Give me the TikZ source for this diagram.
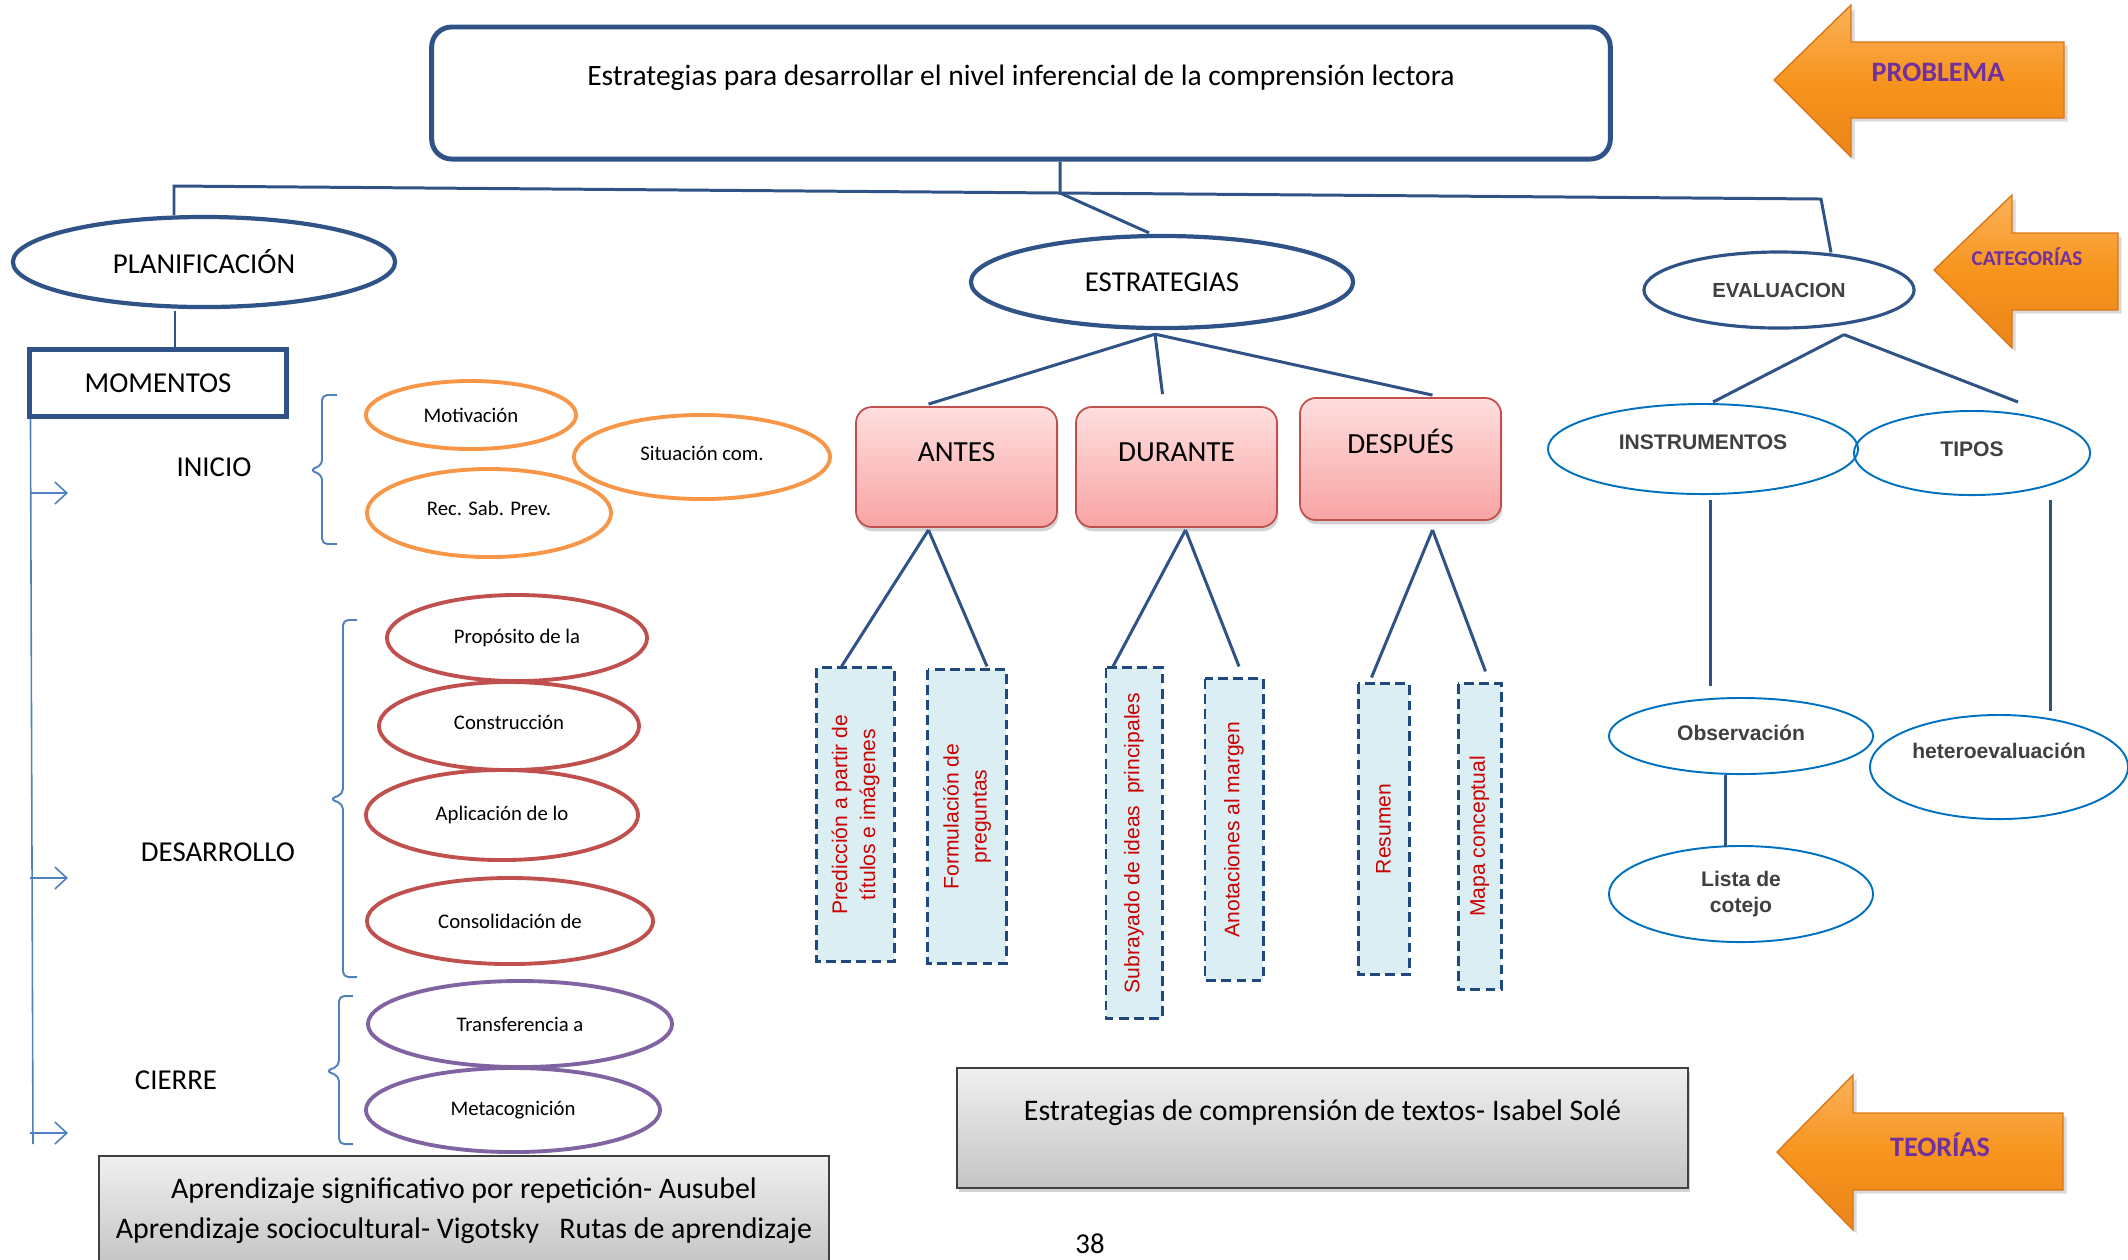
\documentclass[tikz,border=0pt]{standalone}
\usepackage{fontspec}
\setmainfont{Carlito}
\newfontfamily\arialfont{Liberation Sans}
\usepackage{tikz}
\usetikzlibrary{shapes.geometric}
\usetikzlibrary{shadows}
\usetikzlibrary{arrows.meta}
\usetikzlibrary{calc}

\definecolor{navy}{HTML}{2F5386}
\definecolor{spineblue}{HTML}{4F81BD}
\definecolor{lightblue}{HTML}{0070C0}
\definecolor{orangeline}{HTML}{F79646}
\definecolor{redline}{HTML}{C0504D}
\definecolor{purpleline}{HTML}{8064A2}
\definecolor{dashline}{HTML}{1F497D}
\definecolor{dashfill}{HTML}{DAEEF3}
\definecolor{boxred}{HTML}{CC0000}
\definecolor{pinktop}{HTML}{FFDEDE}
\definecolor{pinkbot}{HTML}{F8A4A4}
\definecolor{pinkline}{HTML}{C0504D}
\definecolor{graytop}{HTML}{F0F0F0}
\definecolor{graybot}{HTML}{C4C4C4}
\definecolor{arrowtop}{HTML}{FBB25A}
\definecolor{arrowmid}{HTML}{F7941D}
\definecolor{arrowbot}{HTML}{EC8518}
\definecolor{arrowline}{HTML}{D8761A}
\definecolor{tagpurple}{HTML}{7030A0}
\definecolor{evaltext}{HTML}{404040}

\begin{document}
\begin{tikzpicture}[x=0.01cm, y=-0.01cm,
    link/.style={draw=navy, line width=0.85pt},
    spine/.style={draw=spineblue, line width=0.45pt},
    topic/.style={ellipse, draw=navy, line width=1.2pt, inner sep=0pt, font=\fontsize{8.2}{9.8}\selectfont},
    evaltopic/.style={ellipse, draw=navy, line width=0.9pt, inner sep=0pt, text=evaltext, font=\arialfont\bfseries\fontsize{5.8}{7}\selectfont},
    evalsub/.style={ellipse, draw=lightblue, line width=0.55pt, inner sep=0pt, align=center, text=evaltext, font=\arialfont\bfseries\fontsize{6}{7.4}\selectfont},
    activity/.style={ellipse, line width=1.1pt, inner sep=0pt, font=\fontsize{5.9}{7}\selectfont},
    stage/.style={font=\fontsize{8.2}{9.8}\selectfont},
    phase/.style={rectangle, rounded corners=0.16cm, draw=pinkline, line width=0.5pt, top color=pinktop, bottom color=pinkbot,
        minimum width=2.01cm, inner sep=0pt, text height=0.54cm, text depth=0.66cm, font=\fontsize{8.3}{10}\selectfont,
        drop shadow={shadow xshift=0.4pt, shadow yshift=-1.2pt, opacity=0.35}},
    dashbox/.style={rectangle, rotate=90, draw=dashline, fill=dashfill, line width=0.85pt, dash pattern=on 2.8pt off 1.5pt,
        inner sep=0pt, align=center, text=boxred, font=\arialfont\fontsize{6}{8}\selectfont},
    theory/.style={rectangle, draw=black!75, line width=0.5pt, top color=graytop, bottom color=graybot, font=\fontsize{8.5}{11.4}\selectfont},
    tagarrow/.style={draw=arrowline, line width=0.4pt, top color=arrowtop, bottom color=arrowbot, middle color=arrowmid,
        drop shadow={shadow xshift=1pt, shadow yshift=-1pt, opacity=0.3}},
    tagtext/.style={text=tagpurple, font=\bfseries\fontsize{8}{9.6}\selectfont},
    >={Straight Barb[length=0.12cm, width=0.22cm]}
]
\useasboundingbox (0,0) rectangle (2128,1259);

\node[draw=navy, line width=1.4pt, rounded corners=0.2cm, minimum width=11.78cm, inner sep=0pt,
      text height=0.58cm, text depth=0.74cm, font=\fontsize{8.4}{10}\selectfont] (title) at (1021,93)
      {Estrategias para desarrollar el nivel inferencial de la comprensión lectora};

\node[topic, minimum width=3.82cm, minimum height=0.9cm] (plan) at (204,262) {PLANIFICACIÓN};
\node[topic, minimum width=3.82cm, minimum height=0.92cm] (estrat) at (1162,282) {ESTRATEGIAS};
\node[evaltopic, minimum width=2.7cm, minimum height=0.76cm] (evalu) at (1779,290) {EVALUACION};

\coordinate (barL) at (174,186);
\coordinate (barR) at (1821,199);
\coordinate (hub) at (1060,193);
\draw[link] ($(plan.north)+(-30,0)$) -- (barL) -- (barR) -- ($(evalu.north)+(52,2)$);
\draw[link] ($(title.south)+(39,0)$) -- (hub) -- ($(estrat.north)+(-13,-1)$);

% momentos
\node[draw=navy, line width=1.4pt, minimum width=2.56cm, minimum height=0.67cm, inner sep=0pt,
      font=\fontsize{8.2}{9.8}\selectfont] (momentos) at (158,383) {MOMENTOS};
\draw[link] ($(plan.south)+(-29,2)$) -- ($(momentos.north)+(17,0)$);

\node[stage] (inicio) at (214,467) {INICIO};
\node[stage] (desarrollo) at (218,852) {DESARROLLO};
\node[stage] (cierre) at (176,1080) {CIERRE};

\coordinate (spineTop) at ($(momentos.south west)+(3,0)$);
\coordinate (spineEnd) at (33,1144);
\coordinate (toInicio) at (68,493);
\coordinate (toDesarrollo) at (68,878);
\coordinate (toCierre) at (68,1133);
\draw[spine] (spineTop) -- (spineEnd);
\draw[spine,->] (toInicio -| spineTop) -- (toInicio);
\draw[spine,->] (toDesarrollo -| spineTop) -- (toDesarrollo);
\draw[spine,->] (toCierre -| spineTop) -- (toCierre);

\draw[spine, line width=0.55pt, rounded corners=1.5pt] (337,395) -- (322,395) -- (322,465) -- (310,470) -- (322,475) -- (322,544) -- (337,544);
\draw[spine, line width=0.55pt, rounded corners=1.5pt] (357,620) -- (343,620) -- (343,794) -- (330,799) -- (343,804) -- (343,977) -- (357,977);
\draw[spine, line width=0.55pt, rounded corners=1.5pt] (353,996) -- (339,996) -- (339,1066) -- (326,1071) -- (339,1076) -- (339,1144) -- (353,1144);

\node[activity, draw=orangeline, minimum width=2.10cm, minimum height=0.68cm] (motiv) at (471,415) {Motivación};
\node[activity, draw=orangeline, minimum width=2.56cm, minimum height=0.84cm, text depth=0.08cm] (situac) at (702,457) {Situación com.};
\node[activity, draw=orangeline, minimum width=2.44cm, minimum height=0.88cm, text depth=0.1cm] (recsab) at (489,513) {Rec. Sab. Prev.};

\node[activity, draw=redline, minimum width=2.60cm, minimum height=0.86cm] (proposito) at (517,638) {Propósito de la};
\node[activity, draw=redline, minimum width=2.60cm, minimum height=0.88cm, text depth=0.08cm] (construc) at (509,726) {Construcción};
\node[activity, draw=redline, minimum width=2.72cm, minimum height=0.90cm] (aplic) at (502,815) {Aplicación de lo};
\node[activity, draw=redline, minimum width=2.86cm, minimum height=0.86cm] (consolid) at (510,921) {Consolidación de};

\node[activity, draw=purpleline, minimum width=3.04cm, minimum height=0.86cm] (transf) at (520,1024) {Transferencia a};
\node[activity, draw=purpleline, minimum width=2.94cm, minimum height=0.84cm] (metacog) at (513,1110) {Metacognición};

% estrategias
\node[phase] (antes) at (956.5,467) {ANTES};
\node[phase] (durante) at (1176.5,467) {DURANTE};
\node[phase, text height=0.55cm, text depth=0.67cm] (despues) at (1400.5,459) {DESPUÉS};

\draw[link] ($(estrat.south)+(-7,4)$) -- ($(antes.north)+(-28,-2)$);
\draw[link] ($(estrat.south)+(-7,4)$) -- ($(durante.north)+(-14,-12)$);
\draw[link] ($(estrat.south)+(-7,4)$) -- ($(despues.north)+(32,-2)$);

\node[dashbox, minimum width=2.93cm, minimum height=0.77cm] (predic) at (855.5,814.5) {Predicción a partir de\\títulos e imágenes};
\node[dashbox, minimum width=2.93cm, minimum height=0.78cm] (formul) at (967,816.5) {Formulación de\\preguntas};
\node[dashbox, minimum width=3.50cm, minimum height=0.56cm] (subray) at (1134,843) {Subrayado de ideas\ \ principales};
\node[dashbox, minimum width=3.01cm, minimum height=0.58cm] (anotac) at (1234,829.5) {Anotaciones al margen};
\node[dashbox, minimum width=2.90cm, minimum height=0.51cm] (resumen) at (1383.5,829) {Resumen};
\node[dashbox, minimum width=3.05cm, minimum height=0.43cm] (mapa) at (1479.5,836.5) {Mapa conceptual};

\draw[link] ($(antes.south)+(-28,2)$) -- ($(predic.east)+(-14,0)$);
\draw[link] ($(antes.south)+(-28,2)$) -- ($(formul.east)+(20,-2)$);
\draw[link] ($(durante.south)+(9,2)$) -- ($(subray.east)+(-21,0)$);
\draw[link] ($(durante.south)+(9,2)$) -- ($(anotac.east)+(5,-11)$);
\draw[link] ($(despues.south)+(32,9)$) -- ($(resumen.east)+(-12,-5)$);
\draw[link] ($(despues.south)+(32,9)$) -- ($(mapa.east)+(6,-11)$);

% evaluacion
\node[evalsub, minimum width=3.10cm, minimum height=0.90cm, text depth=0.14cm] (instrum) at (1703,449) {INSTRUMENTOS};
\node[evalsub, minimum width=2.36cm, minimum height=0.84cm, text depth=0.08cm] (tipos) at (1972,453) {TIPOS};
\node[evalsub, minimum width=2.64cm, minimum height=0.76cm, text depth=0.06cm] (observ) at (1741,736) {Observación};
\node[evalsub, minimum width=2.58cm, minimum height=1.04cm, text depth=0.33cm] (hetero) at (1999,767) {heteroevaluación};
\node[evalsub, minimum width=2.64cm, minimum height=0.96cm] (lista) at (1741,894) {Lista de\\cotejo};

\draw[link] ($(evalu.south)+(65,5)$) -- ($(instrum.north)+(10,-1)$);
\draw[link] ($(evalu.south)+(65,5)$) -- ($(tipos.north)+(46,-8)$);
\draw[link] ($(instrum.south)+(7,5)$) -- ($(observ.north)+(-31,-11)$);
\draw[link] ($(tipos.south)+(78,4)$) -- ($(hetero.north)+(51,-3)$);
\draw[link] ($(observ.south)+(-16,0)$) -- ($(lista.north)+(-16,2)$);

% teorias
\node[theory, anchor=north, minimum width=7.30cm, inner ysep=0.22cm, align=center] (teoria1) at (464,1155)
    {Aprendizaje significativo por repetición- Ausubel\\Aprendizaje sociocultural- Vigotsky\ \ \ Rutas de aprendizaje};
\node[theory, minimum width=7.31cm, inner sep=0pt, text height=0.52cm, text depth=0.68cm,
      drop shadow={shadow xshift=0.6pt, shadow yshift=-1.2pt, opacity=0.35}] (teoria2) at (1322.5,1128)
    {Estrategias de comprensión de textos- Isabel Solé};

\draw[tagarrow] (1774,80) -- (1851,5) -- (1851,42) -- (2064,42) -- (2064,118) -- (1851,118) -- (1851,157) -- cycle;
\node[tagtext] (problema) at (1938,72) {PROBLEMA};
\draw[tagarrow] (1934,270) -- (2012,195) -- (2012,233) -- (2118,233) -- (2118,310) -- (2012,310) -- (2012,348) -- cycle;
\node[tagtext, font=\bfseries\fontsize{6}{7.2}\selectfont] (categorias) at (2027,257) {CATEGORÍAS};
\draw[tagarrow] (1777,1152) -- (1853,1075) -- (1853,1113) -- (2063,1113) -- (2063,1190) -- (1853,1190) -- (1853,1230) -- cycle;
\node[tagtext] (teorias) at (1940,1145) {TEORÍAS};

\node[font=\fontsize{8.2}{9.8}\selectfont] (pagina) at (1090,1244) {38};
\end{tikzpicture}
\end{document}
